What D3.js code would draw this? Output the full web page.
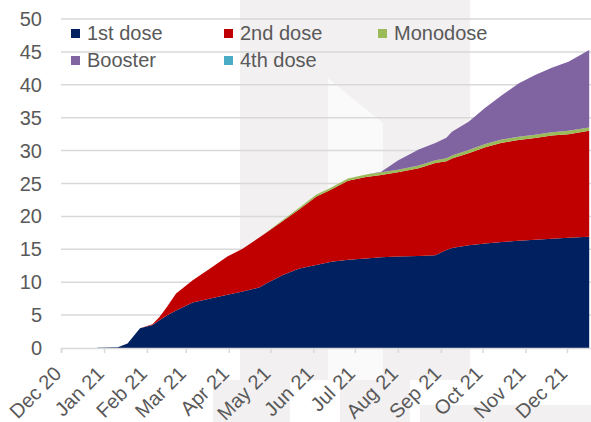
<!DOCTYPE html>
<html>
<head>
<meta charset="utf-8">
<script src="https://cdn.jsdelivr.net/npm/d3@7"></script>
<style>
  body { margin: 0; background: #fff; }
  svg { display: block; font-family: "Liberation Sans", Arial, sans-serif; }
</style>
</head>
<body>
<div id="chart"></div>
<script>
// data (millions, cumulative, stacked parts)
const dates = ["2020-12-27","2021-01-11","2021-01-18","2021-01-27","2021-02-05","2021-02-10","2021-02-15","2021-02-22",
  "2021-03-06","2021-03-18","2021-03-31","2021-04-11","2021-04-23","2021-04-28","2021-05-10","2021-05-22","2021-06-03",
  "2021-06-14","2021-06-26","2021-07-09","2021-07-20","2021-08-01","2021-08-16","2021-08-28","2021-09-05","2021-09-09",
  "2021-09-21","2021-10-03","2021-10-15","2021-10-27","2021-11-08","2021-11-20","2021-12-02","2021-12-17"];
const firstDose = [0.02,0.1,0.7,3.0,3.5,4.2,4.9,5.7,6.9,7.5,8.1,8.6,9.2,9.8,11.1,12.1,12.6,
  13.1,13.4,13.6,13.8,13.9,14.0,14.1,14.9,15.2,15.6,15.9,16.1,16.3,16.45,16.6,16.75,16.9];
const secondDose = [0,0,0,0,0.1,0.5,1.2,2.6,3.4,4.5,5.8,6.5,7.6,7.7,8.2,9.0,10.4,
  11.0,12.0,12.4,12.5,12.8,13.3,14.0,13.5,13.6,14.0,14.6,15.1,15.3,15.45,15.7,15.75,16.1];
const monodose = [0,0,0,0,0,0,0,0,0,0,0,0,0,0.05,0.15,0.25,0.3,
  0.3,0.35,0.35,0.4,0.4,0.45,0.45,0.45,0.45,0.5,0.5,0.5,0.5,0.5,0.5,0.5,0.5];
const booster = [0,0,0,0,0,0,0,0,0,0,0,0,0,0,0,0,0,
  0,0,0,0.1,1.4,2.4,2.6,3.1,3.6,4.3,5.5,6.7,8.1,9.1,9.8,10.5,11.8];
const fourthDose = dates.map(() => 0);

const seriesNames = ["1st dose","2nd dose","Monodose","Booster","4th dose"];
const seriesColors = ["#002060","#C00000","#9BBB59","#8064A2","#4BACC6"];
const yTicks = [0,5,10,15,20,25,30,35,40,45,50];

const width = 591, height = 422;
const parse = d3.timeParse("%Y-%m-%d");

const rows = dates.map((d, i) => ({
  date: parse(d),
  "1st dose": firstDose[i],
  "2nd dose": secondDose[i],
  "Monodose": monodose[i],
  "Booster": booster[i],
  "4th dose": fourthDose[i]
}));

const x = d3.scaleTime()
  .domain([new Date(2020, 11, 1), new Date(2022, 0, 1)])
  .range([61, 610]);
const y = d3.scaleLinear().domain([0, 50]).range([348, 19]);

const svg = d3.select("#chart").append("svg")
  .attr("width", width).attr("height", height);

// faint watermark in the background
const wm = svg.append("g");
wm.append("rect").attr("x", 240).attr("y", 0).attr("width", 230).attr("height", 380).attr("fill", "#f2f0f1");
wm.append("polygon").attr("points", "328,78 383,123 383,380 328,380").attr("fill", "#fbfafa");
wm.append("rect").attr("x", 213).attr("y", 380).attr("width", 77).attr("height", 42).attr("fill", "#f2f0f1");
wm.append("rect").attr("x", 340).attr("y", 380).attr("width", 70).attr("height", 42).attr("fill", "#f2f0f1");
wm.append("rect").attr("x", 420).attr("y", 405).attr("width", 171).attr("height", 17).attr("fill", "#f2f0f1");

// gridlines
svg.append("g")
  .selectAll("line")
  .data(yTicks.filter(d => d > 0))
  .join("line")
  .attr("x1", 61).attr("x2", width)
  .attr("y1", d => y(d)).attr("y2", d => y(d))
  .attr("stroke", "#d9d9d9").attr("stroke-width", 1.5);

// y labels
svg.append("g")
  .selectAll("text")
  .data(yTicks)
  .join("text")
  .attr("x", 42).attr("y", d => y(d))
  .attr("dy", "0.35em")
  .attr("text-anchor", "end")
  .attr("fill", "#595959")
  .style("font-size", "20px")
  .text(d => d);

// stacked areas
const stack = d3.stack().keys(seriesNames);
const layers = stack(rows);
const area = d3.area()
  .x(d => x(d.data.date))
  .y0(d => y(d[0]))
  .y1(d => y(d[1]));

svg.append("g")
  .selectAll("path")
  .data(layers)
  .join("path")
  .attr("d", area)
  .attr("fill", (d, i) => seriesColors[i]);

// x axis
const xAxis = d3.axisBottom(x)
  .ticks(d3.timeMonth.every(1))
  .tickSize(5)
  .tickFormat(d3.timeFormat("%b %y"));

const gx = svg.append("g")
  .attr("transform", `translate(0, ${y(0)})`)
  .call(xAxis);
gx.select(".domain").attr("stroke", "#d9d9d9").attr("stroke-width", 1.5);
gx.selectAll(".tick line").attr("stroke", "#d9d9d9").attr("stroke-width", 1.5);
gx.selectAll(".tick text")
  .attr("fill", "#595959")
  .style("font-size", "20px")
  .style("font-family", "'Liberation Sans', Arial, sans-serif")
  .attr("text-anchor", "end")
  .attr("dy", null)
  .attr("y", 0)
  .attr("transform", "translate(1, 27) rotate(-45)");
gx.selectAll(".tick").filter(d => d > new Date(2021, 11, 15)).remove();

// legend
const legendPos = [[71, 40], [224, 40], [378, 40], [71, 67], [224, 67]];
const legend = svg.append("g")
  .selectAll("g")
  .data(seriesNames)
  .join("g")
  .attr("transform", (d, i) => `translate(${legendPos[i][0]}, ${legendPos[i][1]})`);
legend.append("rect")
  .attr("x", 0).attr("y", -11)
  .attr("width", 9).attr("height", 9)
  .attr("fill", (d, i) => seriesColors[i]);
legend.append("text")
  .attr("x", 16).attr("y", 0)
  .attr("fill", "#595959")
  .style("font-size", "20px")
  .text(d => d);
</script>
</body>
</html>
